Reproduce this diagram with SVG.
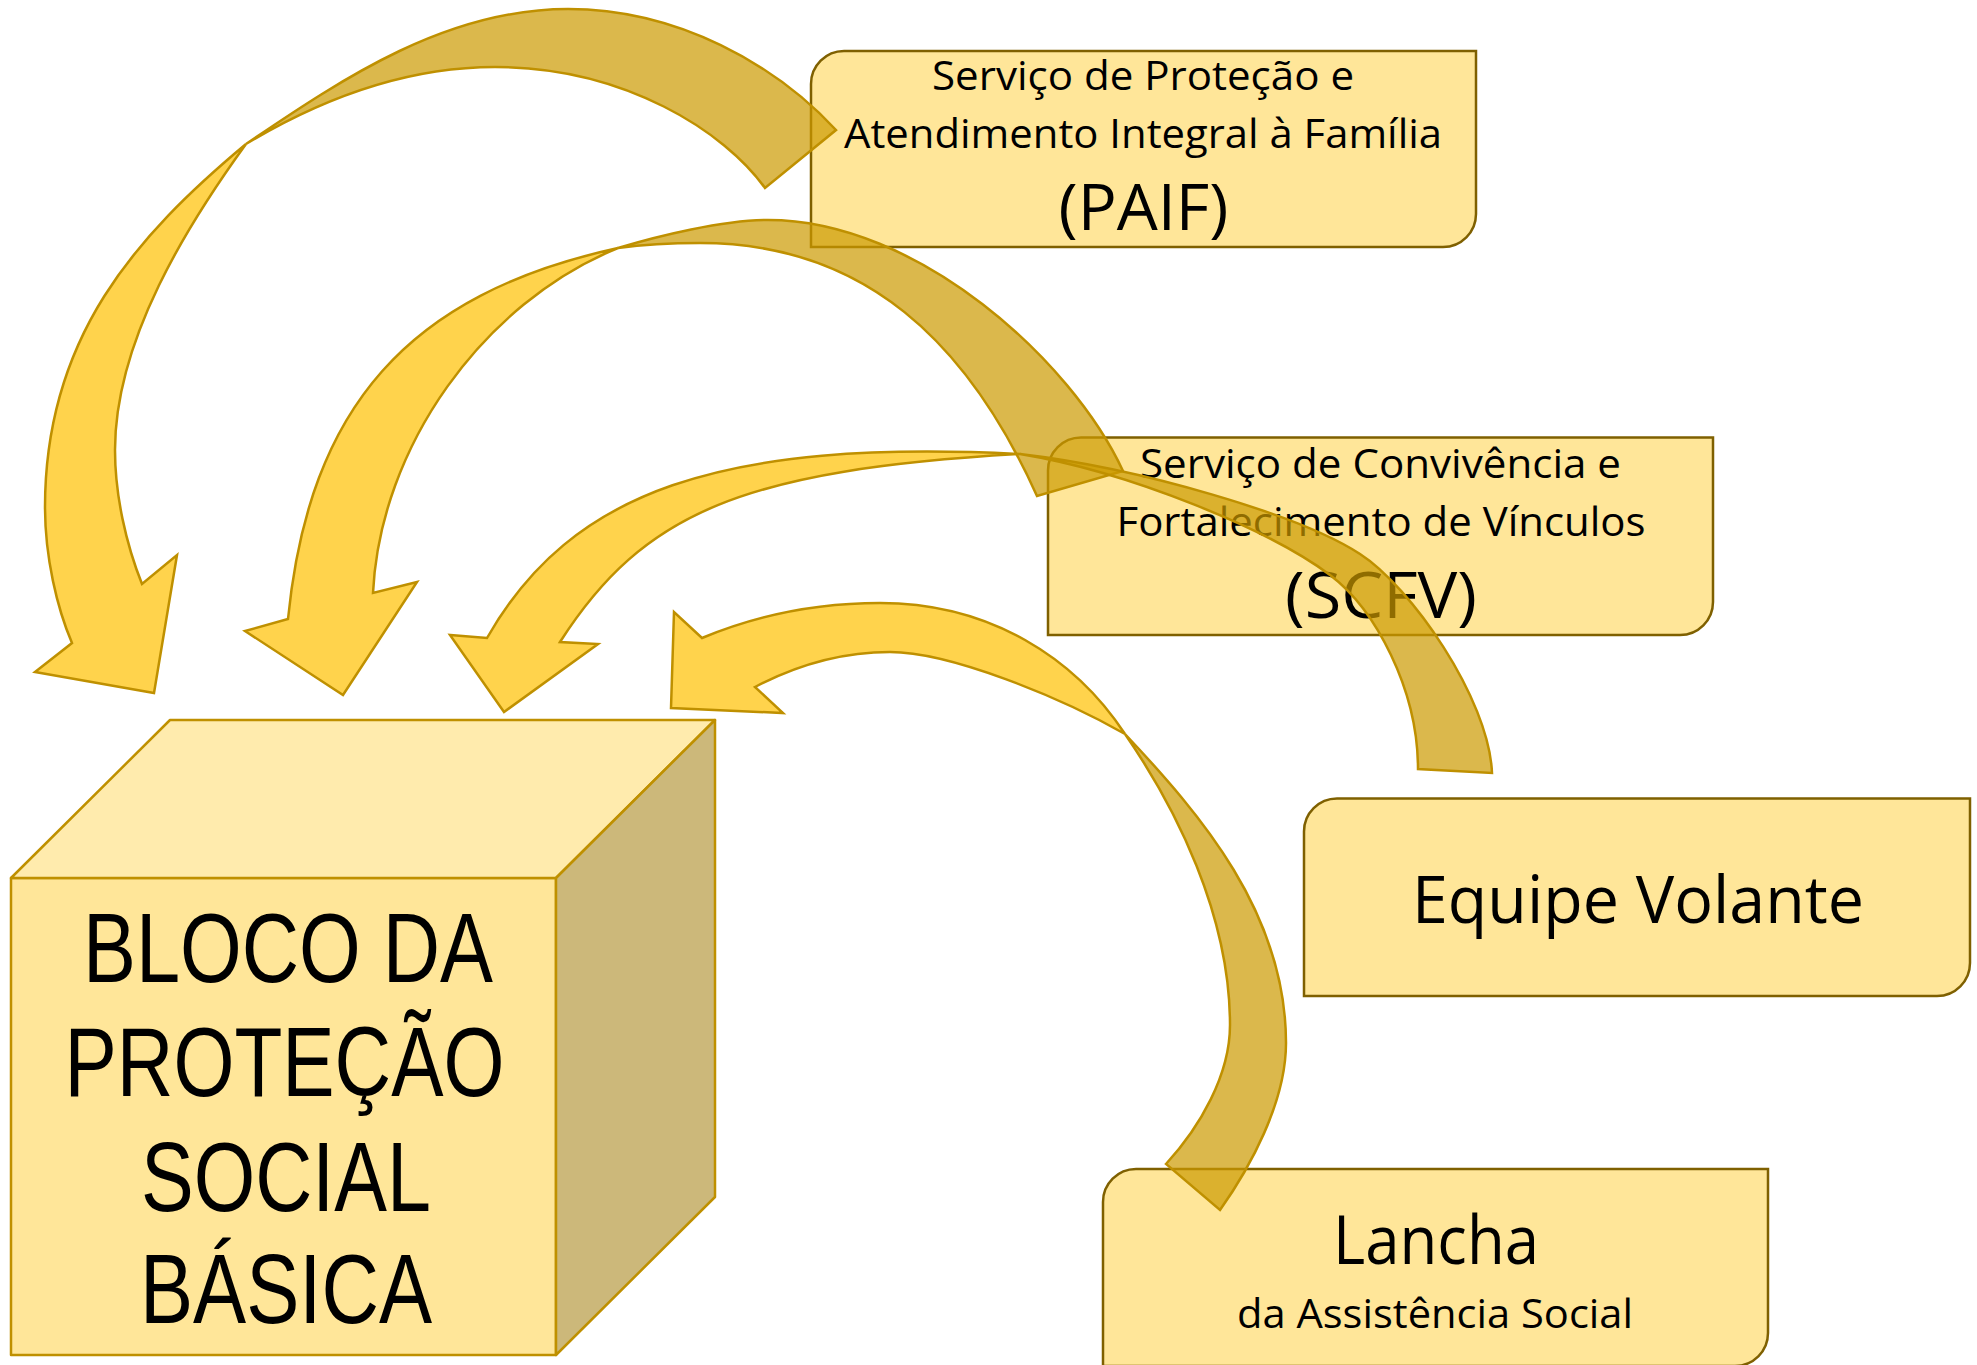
<svg xmlns="http://www.w3.org/2000/svg" width="1977" height="1365" viewBox="0 0 1977 1365">
<style>
.box{fill:#FFE699;stroke:#7F6000;stroke-width:2.5}
.t{font-family:"Open Sans","Noto Sans","DejaVu Sans",sans-serif;fill:#000;text-anchor:middle}
.ct{font-family:"Liberation Sans Narrow","Liberation Sans",Arial,sans-serif;font-size:98px;fill:#000;text-anchor:middle}
.cube{stroke:#BF9000;stroke-width:2.5;stroke-linejoin:round}
.ay{fill:#FFC000;fill-opacity:0.7;stroke:#BF9000;stroke-width:2.5}
.ad{fill:#CC9A00;fill-opacity:0.7;stroke:#BF9000;stroke-width:2.5}
</style>
<rect width="1977" height="1365" fill="#ffffff"/>
<g id="bloco">
<rect class="cube" x="11" y="878" width="545" height="477" fill="#FFE699"/>
<polygon class="cube" points="11,878 170,720 715,720 556,878" fill="#FFEBAD"/>
<polygon class="cube" points="556,878 715,720 715,1197 556,1355" fill="#CCB87A"/>
<text class="ct" x="288" y="981.5" textLength="410" lengthAdjust="spacingAndGlyphs">BLOCO DA</text>
<text class="ct" x="284.5" y="1095.5" textLength="440" lengthAdjust="spacingAndGlyphs">PROTEÇÃO</text>
<text class="ct" x="286" y="1211" textLength="290" lengthAdjust="spacingAndGlyphs">SOCIAL</text>
<text class="ct" x="286" y="1322.5" textLength="292" lengthAdjust="spacingAndGlyphs">BÁSICA</text>
</g>
<g id="paif">
<path class="box" d="M811,247 V84 A33,33 0 0 1 844,51 H1476 V214 A33,33 0 0 1 1443,247 Z"/>
<text class="t" x="1143" y="89.5" font-size="40" textLength="422" lengthAdjust="spacingAndGlyphs">Serviço de Proteção e</text>
<text class="t" x="1143" y="148" font-size="40" textLength="598" lengthAdjust="spacingAndGlyphs">Atendimento Integral à Família</text>
<text class="t" x="1143.5" y="229.5" font-size="64" textLength="170" lengthAdjust="spacingAndGlyphs">(PAIF)</text>
</g>
<g id="scfv">
<path class="box" d="M1048,635 V470.5 A33,33 0 0 1 1081,437.5 H1713 V602 A33,33 0 0 1 1680,635 Z"/>
<text class="t" x="1380.5" y="477.5" font-size="40" textLength="481" lengthAdjust="spacingAndGlyphs">Serviço de Convivência e</text>
<text class="t" x="1381" y="536" font-size="40" textLength="529" lengthAdjust="spacingAndGlyphs">Fortalecimento de Vínculos</text>
<text class="t" x="1381" y="617.5" font-size="64" textLength="192" lengthAdjust="spacingAndGlyphs">(SCFV)</text>
</g>
<g id="equipe">
<path class="box" d="M1304,996 V831.5 A33,33 0 0 1 1337,798.5 H1970 V963 A33,33 0 0 1 1937,996 Z"/>
<text class="t" x="1638" y="923" font-size="66" textLength="452" lengthAdjust="spacingAndGlyphs">Equipe Volante</text>
</g>
<g id="lancha">
<path class="box" d="M1103,1366 V1202 A33,33 0 0 1 1136,1169 H1768 V1333 A33,33 0 0 1 1735,1366 Z"/>
<text class="t" x="1436" y="1264" font-size="68" textLength="206" lengthAdjust="spacingAndGlyphs">Lancha</text>
<text class="t" x="1435" y="1328" font-size="41" textLength="396" lengthAdjust="spacingAndGlyphs">da Assistência Social</text>
</g>
<g id="connectors">
<g id="arrow-paif">
<path class="ad" d="M246,144 C346,76 448,9 568,9 C678,9 776,65 836,130 L765,188 C725,132 625,67 495,67 C395,67 306,108 246,144 Z"/>
<path class="ay" d="M246,144 C136,236 45,337 45,507 C45,557 57,608 72,643 L35,672 L154,693 L177,555 L142,584 C126,544 115,495 115,450 C115,340 188,224 246,144 Z"/>
</g>
<g id="arrow-scfv">
<path class="ad" d="M618,248 C658,236 723,220 768,220 C918,220 1072,361 1123,471 L1037,496 C968,343 865,243 700,243 C672,243 640,245 618,248 Z"/>
<path class="ay" d="M618,248 C408,294 309,407 288,619 L245,631 L343,695 L417,582 L373,593 C380,447 483,303 618,248 Z"/>
</g>
<g id="arrow-equipe">
<path class="ad" d="M1020,454 C1140,468 1300,515 1360,554 C1410,586 1489,698 1492,773 L1418,769 C1418,689 1375,609 1330,575 C1270,530 1130,472 1020,454 Z"/>
<path class="ay" d="M1020,454 C720,439 571,491 487,638 L450,635 L504,712 L598,644 L560,642 C644,511 745,470 1020,454 Z"/>
</g>
<g id="arrow-lancha">
<path class="ad" d="M1125,734 C1200,814 1286,913 1286,1043 C1286,1103 1249,1169 1220,1210 L1166,1164 C1200,1127 1230,1075 1230,1025 C1230,915 1176,808 1125,734 Z"/>
<path class="ay" d="M702,638 C762,613 820,603 880,603 C990,603 1075,658 1125,734 C1060,697 950,652 890,652 C840,652 795,666 755,687 L783,713 L671,708 L674,612 Z"/>
</g>
</g>
</svg>
